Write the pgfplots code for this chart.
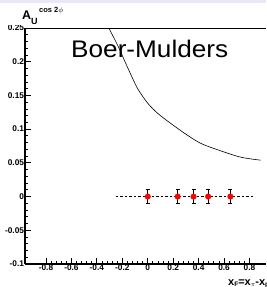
\documentclass[border=0pt]{standalone}
\usepackage{fontspec}
\setmainfont{Liberation Sans}
\usepackage{pgfplots}
\pgfplotsset{compat=1.18}
\definecolor{band}{RGB}{232,232,248}
\begin{document}
\begin{tikzpicture}
\begin{axis}[
  scale only axis, width=241pt, height=236pt,
  xmin=-0.965, xmax=0.93, ymin=-0.1, ymax=0.25,
  axis lines*=left,
  axis line style={-, line width=1.1pt},
  xtick={-0.8,-0.6,-0.4,-0.2,0,0.2,0.4,0.6,0.8},
  ytick={-0.1,-0.05,0,0.05,0.1,0.15,0.2,0.25},
  minor x tick num=4, minor y tick num=4,
  tick align=inside,
  major tick length=6pt, minor tick length=3pt,
  every tick/.style={black, line width=0.8pt},
  /pgf/number format/assume math mode=true,
  /pgf/number format/fixed,
  tick label style={font=\bfseries\fontsize{8.3}{9}\selectfont, inner sep=0.8pt},
  clip=true,
]
\addplot[black, line width=0.5pt, dashed, dash pattern=on 2.5pt off 2pt] coordinates {(-0.25,0) (0.83,0)};
\addplot[black, line width=0.6pt, smooth, tension=0.5] coordinates {
(-0.306,0.25) (-0.233,0.223) (-0.181,0.201) (-0.128,0.179) (-0.076,0.159)
(0.002,0.138) (0.081,0.123) (0.181,0.1085) (0.30,0.0925)
(0.416,0.079) (0.548,0.0695) (0.73,0.0585) (0.888,0.054)};
\addplot[only marks, mark=*, mark size=2.8pt, mark options={draw=red, fill=red},
  error bars/.cd, y dir=both, y explicit,
  error bar style={black, line width=0.6pt},
  error mark options={rotate=90, mark size=2pt, black, line width=0.6pt}]
coordinates {
(0,0) +- (0,0.0105)
(0.235,0) +- (0,0.0105)
(0.36,0) +- (0,0.0105)
(0.475,0) +- (0,0.0105)
(0.65,0) +- (0,0.0105)
};
\end{axis}
\fill[white] (-25pt,238.5pt) rectangle (0pt,264pt);
\fill[band] (-25pt,261pt) rectangle (241pt,264pt);
\draw[black, line width=0.8pt] (current axis.north west) -- (current axis.north east);
\node[anchor=base west, inner sep=0pt, xscale=1.09] at (46pt,206pt)
  {\fontsize{24}{24}\selectfont Boer-Mulders};
\node[anchor=base west, inner sep=0pt] at (-3pt,244pt)
  {\bfseries\fontsize{12.5}{12.5}\selectfont A\raisebox{-5pt}{\fontsize{9}{9}\selectfont U}\hspace{1.5pt}\raisebox{7pt}{\fontsize{7.5}{7.5}\selectfont cos 2$\phi$}};
\node[anchor=base west, inner sep=0pt] at (203pt,-21pt)
  {\bfseries\fontsize{11}{11}\selectfont x\raisebox{-2pt}{\fontsize{6.5}{6.5}\selectfont F}=x\raisebox{-2pt}{\fontsize{6.5}{6.5}\selectfont $\pi$}-x\raisebox{-2pt}{\fontsize{6.5}{6.5}\selectfont p}};
\pgfresetboundingbox
\useasboundingbox (-25pt,-23pt) rectangle (241pt,264pt);
\end{tikzpicture}
\end{document}
